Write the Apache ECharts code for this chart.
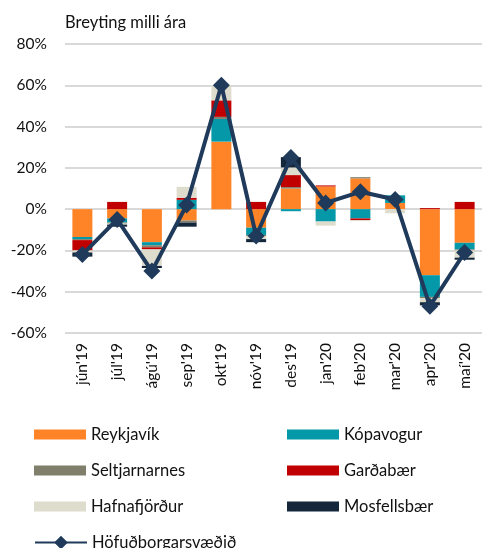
<!DOCTYPE html>
<html>
<head>
<meta charset="utf-8">
<style>
    html, body { margin: 0; padding: 0; background: #fff; }
    #chart { width: 482px; height: 548px; }
</style>
<script src="https://cdn.jsdelivr.net/npm/echarts@6/dist/echarts.min.js"></script>
</head>
<body>
<div id="chart"></div>
<script>
    // mánuðir
    var months = ["jún'19", "júl'19", "ágú'19", "sep'19", "okt'19", "nóv'19", "des'19", "jan'20", "feb'20", "mar'20", "apr'20", "maí'20"];

    // framlag hvers sveitarfélags, prósentustig (jákvætt og neikvætt framlag)
    var reykjavikPos = [0, 0, 0, 0, 32.7, 0, 10, 11, 14.9, 3, 0, 0];
    var reykjavikNeg = [-13.5, -4.5, -16, -5.5, 0, -9, 0, 0, 0, 0, -32, -16.3];
    var kopavogurPos = [0, 0, 0, 4.5, 11, 0, 0, 0, 0, 3.7, 0, 0];
    var kopavogurNeg = [-1, -2, -1.5, 0, 0, -3.5, -1, -6, -4.5, 0, -10.5, -3.2];
    var seltjPos = [0, 0, 0, 0, 1, 0, 0.7, 0, 0.6, 0, 0, 0];
    var seltjNeg = [-0.5, -0.5, -1, -1, 0, -0.5, 0, 0, 0, 0, -0.6, -0.5];
    var gardabaerPos = [0, 3.5, 0, 1, 8, 3.5, 5.8, 0.5, 0, 0, 0.5, 3.5];
    var gardabaerNeg = [-5, 0, -1, 0, 0, 0, 0, 0, -0.8, 0, 0, 0];
    var hafnPos = [0, 0, 0, 5.3, 7.3, 0, 3.7, 0, 0, 0, 0, 0];
    var hafnNeg = [-1, -0.5, -8, 0, 0, -1.5, 0, -2, -0.5, -2, -2, -3.5];
    var mosfPos = [0, 0, 0, 0, 0, 0, 5, 0, 0, 0, 0, 0];
    var mosfNeg = [-2, -1, -1, -2, 0, -1.5, 0, 0, 0, 0, -1.5, -1];
    var hofudborg = [-22, -5, -30, 2, 60, -13, 25, 3, 8.4, 4.7, -47, -21];

    var yTicks = [-60, -40, -20, 0, 20, 40, 60, 80];

    var font = 'Lato, "Open Sans", sans-serif';
    var textColor = '#111';

    // skipta í tvo hluta svo bæði jákvætt og neikvætt framlag sjáist í sama mánuði
    function barSeries(name, color, pos, neg) {
        return [
            { name: name, type: 'bar', stack: 'pos', data: pos, barWidth: 20, itemStyle: { color: color } },
            { name: name, type: 'bar', stack: 'neg', data: neg, barWidth: 20, barGap: '-100%', itemStyle: { color: color } }
        ];
    }

    var colors = {
        'Reykjavík': '#FF8427',
        'Kópavogur': '#0598A8',
        'Seltjarnarnes': '#7F7F6C',
        'Garðabær': '#C00000',
        'Hafnafjörður': '#DEDDCD',
        'Mosfellsbær': '#14263A'
    };

    var series = [].concat(
        barSeries('Reykjavík', colors['Reykjavík'], reykjavikPos, reykjavikNeg),
        barSeries('Kópavogur', colors['Kópavogur'], kopavogurPos, kopavogurNeg),
        barSeries('Seltjarnarnes', colors['Seltjarnarnes'], seltjPos, seltjNeg),
        barSeries('Garðabær', colors['Garðabær'], gardabaerPos, gardabaerNeg),
        barSeries('Hafnafjörður', colors['Hafnafjörður'], hafnPos, hafnNeg),
        barSeries('Mosfellsbær', colors['Mosfellsbær'], mosfPos, mosfNeg)
    );
    series.push({
        name: 'Höfuðborgarsvæðið',
        type: 'line',
        data: hofudborg,
        symbol: 'diamond',
        symbolSize: 17,
        z: 10,
        lineStyle: { color: '#1F3A5A', width: 4 },
        itemStyle: { color: '#1F3A5A' }
    });

    // þjóðsaga í tveimur dálkum
    var legendPos = [
        ['Reykjavík', 34, 426], ['Kópavogur', 287, 426],
        ['Seltjarnarnes', 34, 462], ['Garðabær', 287, 462],
        ['Hafnafjörður', 34, 498], ['Mosfellsbær', 287, 498],
        ['Höfuðborgarsvæðið', 34, 534]
    ];
    var legends = legendPos.map(function (l) {
        var isLine = l[0] === 'Höfuðborgarsvæðið';
        return {
            data: [{ name: l[0], icon: isLine ? undefined : 'rect' }],
            left: l[1], top: l[2],
            padding: 0,
            itemWidth: 52, itemHeight: isLine ? 17 : 10,
            itemGap: 5,
            selectedMode: false,
            textStyle: { fontFamily: font, fontSize: 16.5, color: textColor, padding: [0, 0, 0, 0] }
        };
    });

    var chart = echarts.init(document.getElementById('chart'));
    chart.setOption({
        animation: false,
        title: {
            text: 'Breyting milli ára',
            left: 60, top: 9,
            textStyle: { fontFamily: font, fontSize: 16.5, fontWeight: 'normal', color: textColor }
        },
        legend: legends,
        grid: { left: 65, right: 0, top: 44, bottom: 215, containLabel: false },
        xAxis: {
            type: 'category',
            data: months,
            axisLine: { show: false, onZero: false },
            axisTick: { show: false },
            axisLabel: { rotate: 90, margin: 10, fontFamily: font, fontSize: 15.5, color: textColor }
        },
        yAxis: {
            type: 'value',
            min: yTicks[0], max: yTicks[yTicks.length - 1], interval: 20,
            axisLine: { show: false },
            axisTick: { show: false },
            splitLine: { lineStyle: { color: '#D9D9D9', width: 2 } },
            axisLabel: { formatter: '{value}%', margin: 18, fontFamily: font, fontSize: 15.5, color: textColor }
        },
        series: series
    });
</script>
</body>
</html>
